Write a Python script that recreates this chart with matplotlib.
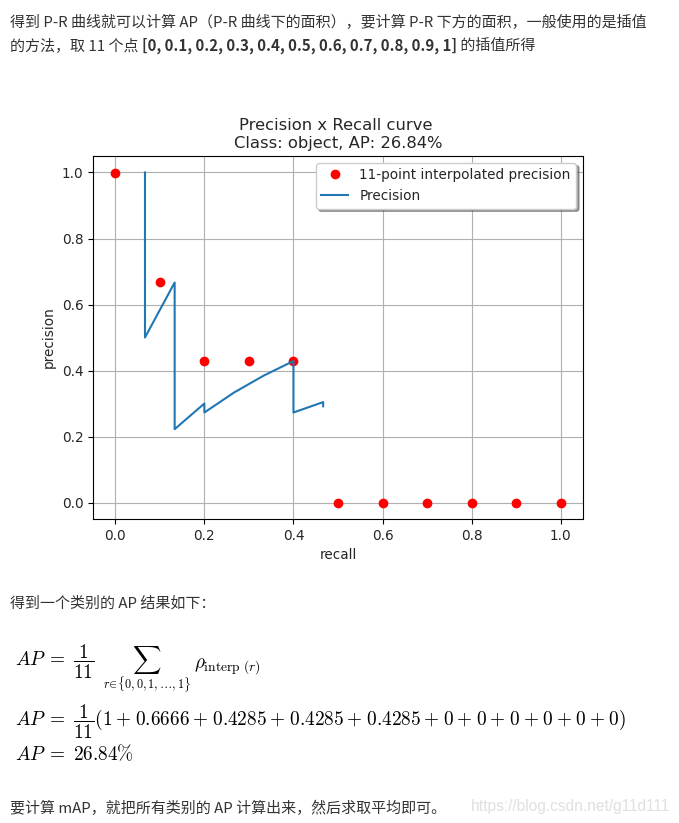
import matplotlib
matplotlib.use("Agg")
import matplotlib.pyplot as plt

# precision / recall of the detections, sorted by confidence
recall = [0.0667, 0.0667, 0.1333, 0.1333, 0.1333, 0.1333, 0.1333, 0.1333, 0.1333,
          0.2, 0.2, 0.2667, 0.3333, 0.4, 0.4, 0.4, 0.4, 0.4, 0.4, 0.4, 0.4, 0.4,
          0.4667, 0.4667]
precision = [1.0, 0.5, 0.6667, 0.5, 0.4, 0.3333, 0.2857, 0.25, 0.2222,
             0.3, 0.2727, 0.3333, 0.3846, 0.4286, 0.4, 0.375, 0.3529, 0.3333,
             0.3158, 0.3, 0.2857, 0.2727, 0.3043, 0.2917]

# 11-point interpolated precision
interp_recall = [0.0, 0.1, 0.2, 0.3, 0.4, 0.5, 0.6, 0.7, 0.8, 0.9, 1.0]
interp_precision = [1.0, 0.6667, 0.4286, 0.4286, 0.4286, 0, 0, 0, 0, 0, 0]

# terms of the AP sum as printed on the page
ap_terms = ["1", "0.6666", "0.4285", "0.4285", "0.4285", "0", "0", "0", "0", "0", "0"]

class_name = "object"
ap_text = "26.84%"

plt.rcParams["mathtext.fontset"] = "cm"

W, H = 679, 823
fig = plt.figure(figsize=(W / 100, H / 100), dpi=100)
fig.patch.set_facecolor("white")

cjk = ["Noto Sans CJK SC", "DejaVu Sans"]
body_color = "#333333"
body_size = 10.8
chart_color = "#262626"


def fx(px):
    return px / W


def fy(py):
    return 1 - py / H


def put_line(parts, x, y):
    # parts: list of (text, bold); drawn one after the other
    renderer = fig.canvas.get_renderer()
    cur = x
    for s, bold in parts:
        t = fig.text(fx(cur), fy(y), s, family=cjk, fontsize=body_size,
                     color=body_color, va="center", ha="left",
                     fontweight="bold" if bold else "normal")
        bb = t.get_window_extent(renderer=renderer)
        cur += bb.width


put_line([("得到 P-R 曲线就可以计算 AP（P-R 曲线下的面积），要计算 P-R 下方的面积，一般使用的是插值", False)], 10, 22)
put_line([("的方法，取 11 个点 ", False),
          ("[0, 0.1, 0.2, 0.3, 0.4, 0.5, 0.6, 0.7, 0.8, 0.9, 1]", True),
          (" 的插值所得", False)], 10, 46)

# chart
ax = fig.add_axes([fx(93), fy(519), fx(583) - fx(93), (519 - 156) / H])
ax.plot(interp_recall, interp_precision, "or", label="11-point interpolated precision")
ax.plot(recall, precision, label="Precision")
fs = 9.8
ax.set_xlabel("recall", fontsize=fs, color=chart_color)
ax.set_ylabel("precision", fontsize=fs, color=chart_color)
ax.set_title("Precision x Recall curve \nClass: %s, AP: %s" % (class_name, ap_text),
             fontsize=11.8, color=chart_color)
ax.tick_params(labelsize=fs, labelcolor=chart_color)
leg = ax.legend(shadow=True, fontsize=fs)
for t in leg.get_texts():
    t.set_color(chart_color)
ax.grid()

put_line([("得到一个类别的 AP 结果如下：", False)], 10, 603)

ms = 13.9
# first formula in pieces so the sum's subscript can be small
fig.text(fx(15), fy(667), r"$AP\;=\;\dfrac{1}{11}$", fontsize=ms, va="baseline", ha="left")
fig.text(fx(147), fy(667), r"$\sum$", fontsize=13.6 * 1.05, va="baseline", ha="center")
fig.text(fx(147), fy(689), r"$r\!\in\!\{0,0,1,\ldots,1\}$", fontsize=8.8, va="baseline", ha="center")
fig.text(fx(194), fy(667), r"$\rho_{\mathrm{interp}\ (r)}$", fontsize=ms, va="baseline", ha="left")

sum_expr = r"\:+\;".join(ap_terms)
fig.text(fx(15), fy(727), r"$AP\;=\;\dfrac{1}{11}(" + sum_expr + ")$",
         fontsize=ms, va="baseline", ha="left")
fig.text(fx(15), fy(760), r"$AP\;=\;" + ap_text.replace("%", r"\%") + "$",
         fontsize=ms, va="baseline", ha="left")

put_line([("要计算 mAP，就把所有类别的 AP 计算出来，然后求取平均即可。", False)], 10, 808)
fig.text(fx(670), fy(806), "https://blog.csdn.net/g11d111", family="Liberation Sans",
         fontsize=11.2, color="#e0e0e0", ha="right", va="center")

fig.savefig("out.png", dpi=100)
